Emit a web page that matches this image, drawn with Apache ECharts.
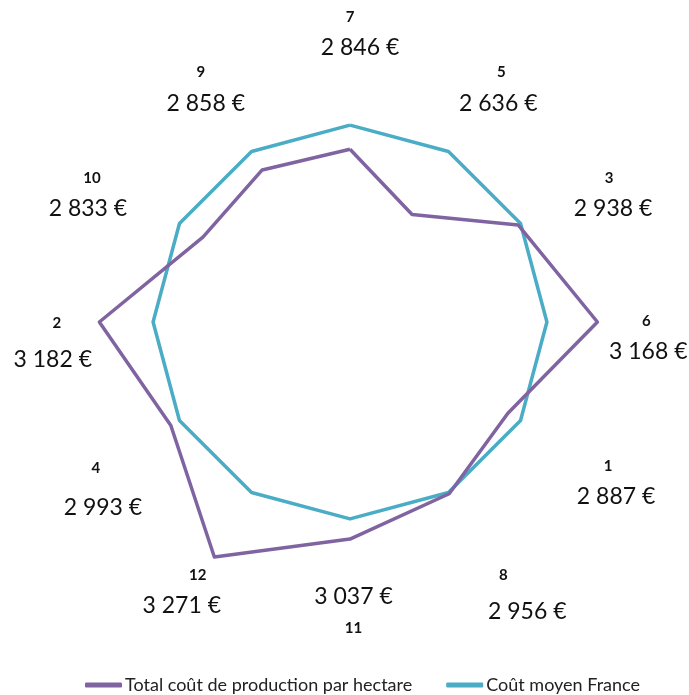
<!DOCTYPE html>
<html>
<head>
<meta charset="utf-8">
<script src="https://cdn.jsdelivr.net/npm/echarts@6/dist/echarts.min.js"></script>
<style>
  html, body { margin: 0; padding: 0; background: #ffffff; }
  #chart { width: 689px; height: 695px; }
</style>
</head>
<body>
<div id="chart"></div>
<script>
  // axes, in radar order (counter-clockwise from the top)
  let categories = ['7', '9', '10', '2', '4', '12', '11', '8', '1', '6', '3', '5'];
  // Total coût de production par hectare
  let totalCost = [2846, 2858, 2833, 3182, 2993, 3271, 3037, 2956, 2887, 3168, 2938, 2636];
  // Coût moyen France (same on every axis)
  let franceAvg = [2950, 2950, 2950, 2950, 2950, 2950, 2950, 2950, 2950, 2950, 2950, 2950];
  let seriesNames = ['Total coût de production par hectare', 'Coût moyen France'];

  // the labels were moved by hand in the original, nudge each one
  // top/mid/bottom = blank space (px), pads = [left, right] padding
  let labelTweaks = {
    '7':  { top: 0,   mid: 0, bottom: 48,  valPad: [20, 0], namePad: [0, 0] },
    '9':  { top: 0,   mid: 0, bottom: 104, valPad: [0, 0],  namePad: [0, 10] },
    '10': { top: 0,   mid: 0, bottom: 46,  valPad: [0, 41], namePad: [0, 33] },
    '2':  { top: 40,  mid: 6, bottom: 0,   valPad: [0, 48], namePad: [0, 40] },
    '4':  { top: 123, mid: 9, bottom: 0,   valPad: [0, 26], namePad: [0, 40] },
    '12': { top: 174, mid: 0, bottom: 0,   valPad: [0, 24], namePad: [8, 0] },
    '11': { top: 49,  mid: 0, bottom: 0,   valPad: [7, 0],  namePad: [7, 0], valueFirst: true },
    '8':  { top: 180, mid: 6, bottom: 0,   valPad: [33, 0], namePad: [0, 15] },
    '1':  { top: 110, mid: 0, bottom: 0,   valPad: [45, 0], namePad: [29, 0] },
    '6':  { top: 30,  mid: 0, bottom: 0,   valPad: [49, 0], namePad: [45, 0] },
    '3':  { top: 0,   mid: 0, bottom: 46,  valPad: [42, 0], namePad: [34, 0] },
    '5':  { top: 0,   mid: 0, bottom: 104, valPad: [4, 0],  namePad: [10, 0] }
  };

  let fontFam = 'Lato, "Open Sans", sans-serif';

  function euro(v) {
    return String(v).replace(/\B(?=(\d{3})+(?!\d))/g, ' ') + ' €';
  }

  // one set of rich styles per axis label
  let rich = {};
  categories.forEach(function (c, i) {
    let t = labelTweaks[c];
    rich['n' + i] = {
      fontFamily: fontFam,
      fontWeight: 'bold',
      fontSize: 15,
      color: '#111111',
      lineHeight: 30,
      align: 'center',
      padding: [0, t.namePad[1], 0, t.namePad[0]]
    };
    rich['v' + i] = {
      fontFamily: fontFam,
      fontSize: 23,
      color: '#111111',
      lineHeight: 32,
      align: 'center',
      padding: [0, t.valPad[1], 0, t.valPad[0]]
    };
    rich['t' + i] = { lineHeight: t.top, fontSize: 1 };
    rich['m' + i] = { lineHeight: t.mid, fontSize: 1 };
    rich['b' + i] = { lineHeight: t.bottom, fontSize: 1 };
  });

  let chart = echarts.init(document.getElementById('chart'));

  let options = {
    backgroundColor: '#ffffff',
    animation: false,
    legend: {
      data: seriesNames,
      top: 671,
      left: 80,
      icon: 'roundRect',
      itemWidth: 37,
      itemHeight: 5,
      itemGap: 34,
      textStyle: {
        fontFamily: fontFam,
        fontSize: 18,
        color: '#222222',
        padding: [0, 0, 0, -2]
      }
    },
    radar: {
      center: [350, 322],
      radius: 278,
      startAngle: 90,
      shape: 'polygon',
      splitNumber: 6,
      nameGap: -68,
      indicator: categories.map(function (c) {
        return { name: c, min: 2100, max: 3300 };
      }),
      axisName: {
        formatter: function (name) {
          let i = categories.indexOf(name);
          let t = labelTweaks[name];
          let nameLine = '{n' + i + '|' + name + '}';
          let valLine = '{v' + i + '|' + euro(totalCost[i]) + '}';
          let lines = [];
          if (t.top > 0) lines.push('{t' + i + '|\u200b}');
          lines.push(t.valueFirst ? valLine : nameLine);
          if (t.mid > 0) lines.push('{m' + i + '|\u200b}');
          lines.push(t.valueFirst ? nameLine : valLine);
          if (t.bottom > 0) lines.push('{b' + i + '|\u200b}');
          return lines.join('\n');
        },
        rich: rich
      },
      axisLine: { show: false },
      axisTick: { show: false },
      axisLabel: { show: false },
      splitLine: { show: false },
      splitArea: { show: false }
    },
    series: [
      {
        name: seriesNames[0],
        type: 'radar',
        symbol: 'none',
        z: 3,
        lineStyle: { color: '#8064A2', width: 3.5 },
        itemStyle: { color: '#8064A2' },
        data: [{ name: seriesNames[0], value: totalCost }]
      },
      {
        name: seriesNames[1],
        type: 'radar',
        symbol: 'none',
        z: 2,
        lineStyle: { color: '#4BACC6', width: 3.5 },
        itemStyle: { color: '#4BACC6' },
        data: [{ name: seriesNames[1], value: franceAvg }]
      }
    ]
  };

  chart.setOption(options);
</script>
</body>
</html>
